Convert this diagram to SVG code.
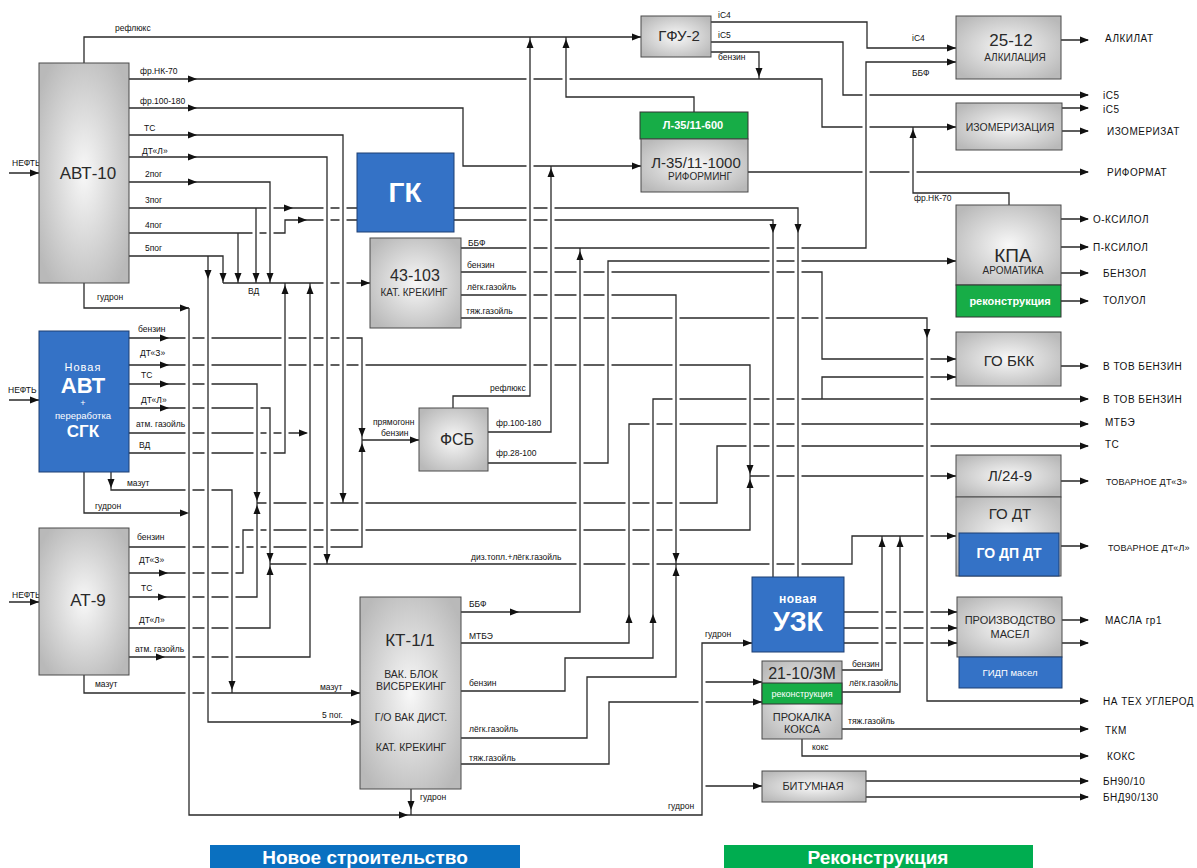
<svg xmlns="http://www.w3.org/2000/svg" xmlns:xlink="http://www.w3.org/1999/xlink" width="1197" height="868" viewBox="0 0 1197 868">
  <style>
    .c { fill: none; stroke: #2a2a2a; stroke-width: 1.3; }
    .box { fill: url(#gray); stroke: #4a4a4a; stroke-width: 1; }
    .blue { fill: #3472c6; stroke: #1d3f73; stroke-width: 1; }
    .green { fill: #17ad47; stroke: #333; stroke-width: 1; }
    text { font-family: "Liberation Sans", Arial, sans-serif; fill: #111; }
    .l { font-size: 8.5px; }
    .o { font-size: 10px; letter-spacing: 0.5px; }
    .o2 { font-size: 9px; letter-spacing: 0.2px; }
    .n { text-anchor: middle; fill: #2a2a2a; }
    .w { fill: #fff; font-weight: bold; text-anchor: middle; }
    .wn { fill: #fff; text-anchor: middle; }
  </style>
  <defs>
    <radialGradient id="gray" cx="50%" cy="50%" r="62%">
      <stop offset="0" stop-color="#f8f8f8"/>
      <stop offset="1" stop-color="#b9b9b9"/>
    </radialGradient>
    <path id="ar" d="M0,0 L-9,-3.5 L-9,3.5 Z" fill="#111"/>
    <path id="au" d="M0,0 L-3.5,9 L3.5,9 Z" fill="#111"/>
    <path id="ad" d="M0,0 L-3.5,-9 L3.5,-9 Z" fill="#111"/>
    <!-- vertical runs that cross horizontal lines (used for line hops) -->
    <g id="vsegs">
      <path d="M343,139V499M327,161V560M270,186V279M256,212V279M238,237V279M223,260V279M208,260V718M285,287V449M310,287V653M189,312V811M362,342V436M362,444V543M750,369V472M750,480V526M243,534V569M257,388V499M257,507V593M270,412V560M270,568V624M232,494V689M798,212V573M773,224V573M866,66V244M822,83V123M822,276V355M676,299V560M676,568V673M927,322V697M530,41V392M551,170V428M608,265V459M843,46V91M867,26V44M913,131V189M580,252V608M629,428V639M653,403V654M565,662V687M587,681V734M609,706V760M717,450V499M852,540V560M882,540V666M900,540V688M702,647V811M822,381V395M759,56V75M463,112V162M566,41V93"/>
    </g>
  </defs>

  <rect width="1197" height="868" fill="#fff"/>

  <!-- flow lines -->
  <g id="connectors">
    <path class="c" d="M9,173H39M9,400H39M9,602H39"/>
    <path class="c" d="M84,63V37H641"/>
    <path class="c" d="M129,79H822V127H956"/>
    <path class="c" d="M711,52H759V79"/>
    <path class="c" d="M129,108H463V166H641"/>
    <path class="c" d="M129,135H343V503"/>
    <path class="c" d="M129,157H327V564"/>
    <path class="c" d="M129,182H270V283"/>
    <path class="c" d="M129,208H357M256,208V283"/>
    <path class="c" d="M129,233H285V220H357M238,233V283"/>
    <path class="c" d="M129,256H223V283"/>
    <path class="c" d="M208,256V722H360"/>
    <path class="c" d="M223,283H370"/>
    <path class="c" d="M84,283V308H189"/>
    <path class="c" d="M189,308V815H702V643H752M702,682H762M702,786H762"/>
    <path class="c" d="M411,789V815"/>
    <path class="c" d="M129,338H362V547H129M362,440H419"/>
    <path class="c" d="M129,365H750V530H243V573H129M750,476H956"/>
    <path class="c" d="M129,384H257V597H129M257,503H717V446H1088"/>
    <path class="c" d="M129,408H270V628H129M270,564H852V536H956"/>
    <path class="c" d="M129,433H310"/>
    <path class="c" d="M129,453H285V283"/>
    <path class="c" d="M129,657H310V283"/>
    <path class="c" d="M111,472V490H232V693"/>
    <path class="c" d="M84,472V513H189"/>
    <path class="c" d="M84,675V693H360"/>
    <path class="c" d="M454,208H798V577M454,220H773V577"/>
    <path class="c" d="M461,248H866V62H956"/>
    <path class="c" d="M461,272H822V359H956"/>
    <path class="c" d="M461,738H587V677H676V295H461"/>
    <path class="c" d="M461,318H927V701H1088"/>
    <path class="c" d="M453,408V396H530V37"/>
    <path class="c" d="M488,432H551V166"/>
    <path class="c" d="M488,463H608V261H956"/>
    <path class="c" d="M711,22H867V48H956"/>
    <path class="c" d="M711,42H843V95H1088"/>
    <path class="c" d="M694,112V97H566V37"/>
    <path class="c" d="M748,172H1088"/>
    <path class="c" d="M1061,40H1088M1062,108H1088M1062,131H1088"/>
    <path class="c" d="M1009,205V193H913V127"/>
    <path class="c" d="M1061,219H1088M1061,247H1088M1061,273H1088M1061,301H1088M1061,366H1088"/>
    <path class="c" d="M461,612H580V248"/>
    <path class="c" d="M461,643H629V424H1088"/>
    <path class="c" d="M461,691H565V658H653V399H1088M822,399V377H956"/>
    <path class="c" d="M461,764H609V702H762"/>
    <path class="c" d="M842,670H882V536M842,692H900V536"/>
    <path class="c" d="M842,729H1088M802,739V756H1088"/>
    <path class="c" d="M866,781H1088M866,797H1088"/>
    <path class="c" d="M844,612H957M844,628H957M844,643H957"/>
    <path class="c" d="M1062,620H1088M1062,643H1088M1061,481H1088M1059,546H1088"/>

    <!-- line hops: white gap under each crossing vertical, then the vertical again -->
    <use href="#vsegs" fill="none" stroke="#fff" stroke-width="7"/>
    <use href="#vsegs" fill="none" stroke="#2a2a2a" stroke-width="1.3"/>

    <!-- arrowheads -->
    <g id="arrowheads">
      <use href="#ar" x="39" y="173"/><use href="#ar" x="39" y="400"/><use href="#ar" x="39" y="602"/>
      <use href="#ar" x="641" y="37"/><use href="#ar" x="641" y="166"/>
      <use href="#ar" x="197" y="79"/><use href="#ar" x="197" y="108"/><use href="#ar" x="197" y="135"/>
      <use href="#ar" x="197" y="157"/><use href="#ar" x="197" y="182"/>
      <use href="#ar" x="293" y="208"/><use href="#ar" x="307" y="220"/>
      <use href="#ad" x="208" y="279"/><use href="#ad" x="223" y="282"/><use href="#ad" x="238" y="282"/>
      <use href="#ad" x="256" y="282"/><use href="#ad" x="270" y="282"/>
      <use href="#au" x="285" y="285"/><use href="#au" x="310" y="285"/>
      <use href="#ar" x="370" y="283"/>
      <use href="#ar" x="189" y="308"/><use href="#ar" x="189" y="513"/>
      <use href="#ar" x="169" y="338"/><use href="#ar" x="169" y="365"/><use href="#ar" x="169" y="384"/>
      <use href="#ar" x="169" y="408"/><use href="#ar" x="308" y="433"/>
      <use href="#ad" x="111" y="488"/><use href="#ad" x="232" y="690"/>
      <use href="#ar" x="168" y="573"/><use href="#ar" x="167" y="597"/><use href="#ar" x="165" y="657"/>
      <use href="#ar" x="360" y="693"/><use href="#ar" x="360" y="722"/>
      <use href="#ad" x="257" y="501"/><use href="#au" x="257" y="505"/>
      <use href="#ad" x="270" y="562"/><use href="#au" x="270" y="566"/>
      <use href="#ad" x="343" y="502"/><use href="#ad" x="327" y="563"/>
      <use href="#ad" x="362" y="437"/><use href="#au" x="362" y="443"/>
      <use href="#ar" x="419" y="440"/>
      <use href="#au" x="530" y="39"/><use href="#au" x="566" y="39"/><use href="#au" x="551" y="168"/>
      <use href="#ad" x="759" y="77"/>
      <use href="#ad" x="773" y="233"/><use href="#ad" x="798" y="233"/>
      <use href="#au" x="580" y="251"/>
      <use href="#ad" x="676" y="562"/><use href="#au" x="676" y="567"/>
      <use href="#ad" x="750" y="474"/><use href="#au" x="750" y="479"/>
      <use href="#au" x="629" y="614"/><use href="#au" x="653" y="614"/>
      <use href="#au" x="913" y="129"/><use href="#ad" x="927" y="338"/>
      <use href="#au" x="882" y="538"/><use href="#au" x="900" y="538"/>
      <use href="#ar" x="519" y="612"/>
      <use href="#ad" x="411" y="810"/><use href="#ar" x="408" y="815"/>
      <use href="#ar" x="752" y="643"/><use href="#ar" x="762" y="682"/><use href="#ar" x="762" y="702"/><use href="#ar" x="762" y="786"/>
      <use href="#ar" x="956" y="48"/><use href="#ar" x="956" y="62"/><use href="#ar" x="956" y="127"/>
      <use href="#ar" x="956" y="261"/><use href="#ar" x="956" y="359"/><use href="#ar" x="956" y="377"/>
      <use href="#ar" x="956" y="476"/><use href="#ar" x="956" y="536"/>
      <use href="#ar" x="957" y="612"/><use href="#ar" x="957" y="628"/><use href="#ar" x="957" y="643"/>
      <use href="#ar" x="1089" y="40"/><use href="#ar" x="1089" y="95"/><use href="#ar" x="1089" y="108"/>
      <use href="#ar" x="1089" y="131"/><use href="#ar" x="1089" y="172"/><use href="#ar" x="1089" y="219"/>
      <use href="#ar" x="1089" y="247"/><use href="#ar" x="1089" y="273"/><use href="#ar" x="1089" y="301"/>
      <use href="#ar" x="1089" y="366"/><use href="#ar" x="1089" y="399"/><use href="#ar" x="1089" y="424"/>
      <use href="#ar" x="1089" y="446"/><use href="#ar" x="1089" y="481"/><use href="#ar" x="1089" y="546"/>
      <use href="#ar" x="1089" y="620"/><use href="#ar" x="1089" y="643"/><use href="#ar" x="1089" y="701"/>
      <use href="#ar" x="1089" y="729"/><use href="#ar" x="1089" y="756"/><use href="#ar" x="1089" y="781"/>
      <use href="#ar" x="1089" y="797"/>
    </g>

    <!-- flow labels -->
    <g id="flow-labels" class="l">
      <text x="12" y="166">НЕФТЬ</text>
      <text x="8" y="393">НЕФТЬ</text>
      <text x="12" y="598">НЕФТЬ</text>
      <text x="115" y="31">рефлюкс</text>
      <text x="140" y="74">фр.НК-70</text>
      <text x="140" y="104">фр.100-180</text>
      <text x="144" y="131">ТС</text>
      <text x="142" y="154">ДТ«Л»</text>
      <text x="145" y="177">2пог</text>
      <text x="145" y="203">3пог</text>
      <text x="145" y="228">4пог</text>
      <text x="145" y="251">5пог</text>
      <text x="248" y="294">ВД</text>
      <text x="97" y="300">гудрон</text>
      <text x="138" y="332">бензин</text>
      <text x="140" y="356">ДТ«З»</text>
      <text x="141" y="378">ТС</text>
      <text x="141" y="403">ДТ«Л»</text>
      <text x="136" y="427">атм. газойль</text>
      <text x="139" y="448">ВД</text>
      <text x="127" y="486">мазут</text>
      <text x="95" y="509">гудрон</text>
      <text x="137" y="540">бензин</text>
      <text x="139" y="563">ДТ«З»</text>
      <text x="141" y="591">ТС</text>
      <text x="139" y="623">ДТ«Л»</text>
      <text x="135" y="652">атм. газойль</text>
      <text x="95" y="687">мазут</text>
      <text x="320" y="690">мазут</text>
      <text x="322" y="718">5 пог.</text>
      <text x="468" y="246">ББФ</text>
      <text x="467" y="268">бензин</text>
      <text x="467" y="290">лёгк.газойль</text>
      <text x="466" y="314">тяж.газойль</text>
      <text x="490" y="391">рефлюкс</text>
      <text x="373" y="425">прямогонн</text>
      <text x="381" y="436">бензин</text>
      <text x="496" y="426">фр.100-180</text>
      <text x="496" y="456">фр.28-100</text>
      <text x="718" y="18">iC4</text>
      <text x="718" y="38">iC5</text>
      <text x="718" y="60">бензин</text>
      <text x="912" y="41">iC4</text>
      <text x="912" y="76">ББФ</text>
      <text x="914" y="201">фр.НК-70</text>
      <text x="471" y="560">диз.топл.+лёгк.газойль</text>
      <text x="469" y="607">ББФ</text>
      <text x="469" y="639">МТБЭ</text>
      <text x="469" y="686">бензин</text>
      <text x="469" y="732">лёгк.газойль</text>
      <text x="469" y="761">тяж.газойль</text>
      <text x="420" y="800">гудрон</text>
      <text x="668" y="809">гудрон</text>
      <text x="705" y="637">гудрон</text>
      <text x="852" y="667">бензин</text>
      <text x="849" y="686">лёгк.газойль</text>
      <text x="848" y="724">тяж.газойль</text>
      <text x="812" y="750">кокс</text>
    </g>

    <!-- product names -->
    <g id="products" class="o">
      <text x="1105" y="42">АЛКИЛАТ</text>
      <text x="1103" y="99">iC5</text>
      <text x="1103" y="113">iC5</text>
      <text x="1107" y="135">ИЗОМЕРИЗАТ</text>
      <text x="1107" y="176">РИФОРМАТ</text>
      <text x="1093" y="223">О-КСИЛОЛ</text>
      <text x="1093" y="251">П-КСИЛОЛ</text>
      <text x="1103" y="277">БЕНЗОЛ</text>
      <text x="1103" y="304">ТОЛУОЛ</text>
      <text x="1103" y="370">В ТОВ БЕНЗИН</text>
      <text x="1103" y="403">В ТОВ БЕНЗИН</text>
      <text x="1105" y="426">МТБЭ</text>
      <text x="1105" y="448">ТС</text>
      <text class="o2" x="1106" y="485">ТОВАРНОЕ ДТ«З»</text>
      <text class="o2" x="1108" y="551">ТОВАРНОЕ ДТ«Л»</text>
      <text x="1105" y="624">МАСЛА гр1</text>
      <text x="1103" y="705">НА ТЕХ УГЛЕРОД</text>
      <text x="1105" y="734">ТКМ</text>
      <text x="1107" y="760">КОКС</text>
      <text x="1103" y="785">БН90/10</text>
      <text x="1103" y="801">БНД90/130</text>
    </g>
  </g>

  <!-- units -->
  <g id="avt10">
    <rect class="box" x="39" y="63" width="90" height="220"/>
    <text class="n" x="88" y="179" font-size="17">АВТ-10</text>
  </g>
  <g id="new-avt">
    <rect class="blue" x="39" y="331" width="90" height="141"/>
    <text class="wn" x="83" y="371" font-size="11" letter-spacing="1">Новая</text>
    <text class="w" x="83" y="393" font-size="22">АВТ</text>
    <text class="wn" x="83" y="406" font-size="9">+</text>
    <text class="wn" x="83" y="419" font-size="9.5">переработка</text>
    <text class="w" x="83" y="437" font-size="17">СГК</text>
  </g>
  <g id="at9">
    <rect class="box" x="39" y="528" width="90" height="147"/>
    <text class="n" x="88" y="606" font-size="17">АТ-9</text>
  </g>
  <g id="gk">
    <rect class="blue" x="357" y="153" width="97" height="79"/>
    <text class="w" x="405" y="202" font-size="28">ГК</text>
  </g>
  <g id="u43-103">
    <rect class="box" x="370" y="238" width="91" height="90"/>
    <text class="n" x="415" y="281" font-size="16">43-103</text>
    <text class="n" x="414" y="296" font-size="10">КАТ. КРЕКИНГ</text>
  </g>
  <g id="fsb">
    <rect class="box" x="419" y="408" width="69" height="63"/>
    <text class="n" x="457" y="445" font-size="16">ФСБ</text>
  </g>
  <g id="kt11">
    <rect class="box" x="360" y="597" width="101" height="192"/>
    <text class="n" x="410" y="646" font-size="17">КТ-1/1</text>
    <text class="n" x="411" y="678" font-size="10.5">ВАК. БЛОК</text>
    <text class="n" x="411" y="690" font-size="10.5">ВИСБРЕКИНГ</text>
    <text class="n" x="411" y="721" font-size="10.5">Г/О ВАК ДИСТ.</text>
    <text class="n" x="411" y="751" font-size="10.5">КАТ. КРЕКИНГ</text>
  </g>
  <g id="gfu2">
    <rect class="box" x="641" y="16" width="70" height="41"/>
    <text class="n" x="679" y="41" font-size="15">ГФУ-2</text>
  </g>
  <g id="l35">
    <rect class="green" x="640" y="112" width="108" height="27"/>
    <text class="w" x="693" y="129" font-size="11">Л-35/11-600</text>
    <rect class="box" x="641" y="139" width="107" height="53"/>
    <text class="n" x="696" y="168" font-size="15">Л-35/11-1000</text>
    <text class="n" x="700" y="180" font-size="10">РИФОРМИНГ</text>
  </g>
  <g id="alkylation">
    <rect class="box" x="956" y="16" width="105" height="63"/>
    <text class="n" x="1011" y="46" font-size="17">25-12</text>
    <text class="n" x="1015" y="61" font-size="10">АЛКИЛАЦИЯ</text>
  </g>
  <g id="isomerization">
    <rect class="box" x="956" y="103" width="106" height="47"/>
    <text class="n" x="1010" y="131" font-size="10.5">ИЗОМЕРИЗАЦИЯ</text>
  </g>
  <g id="kpa">
    <rect class="box" x="956" y="205" width="105" height="80"/>
    <text class="n" x="1013" y="262" font-size="19">КПА</text>
    <text class="n" x="1013" y="274" font-size="10">АРОМАТИКА</text>
    <rect class="green" x="956" y="285" width="105" height="32"/>
    <text class="w" x="1010" y="305" font-size="11">реконструкция</text>
  </g>
  <g id="go-bkk">
    <rect class="box" x="956" y="332" width="105" height="54"/>
    <text class="n" x="1009" y="366" font-size="15">ГО БКК</text>
  </g>
  <g id="go-dt">
    <rect class="box" x="956" y="455" width="105" height="42"/>
    <text class="n" x="1010" y="481" font-size="15">Л/24-9</text>
    <rect class="box" x="956" y="497" width="105" height="79"/>
    <text class="n" x="1010" y="519" font-size="15">ГО ДТ</text>
    <rect class="blue" x="959" y="533" width="100" height="43"/>
    <text class="w" x="1009" y="558" font-size="14">ГО ДП ДТ</text>
  </g>
  <g id="uzk">
    <rect class="blue" x="752" y="577" width="92" height="75"/>
    <text class="w" x="798" y="603" font-size="12" letter-spacing="0.5">новая</text>
    <text class="w" x="798" y="631" font-size="27">УЗК</text>
  </g>
  <g id="oils">
    <rect class="box" x="957" y="597" width="105" height="60"/>
    <text class="n" x="1010" y="624" font-size="11">ПРОИЗВОДСТВО</text>
    <text class="n" x="1010" y="638" font-size="11">МАСЕЛ</text>
    <rect class="blue" x="959" y="657" width="103" height="31"/>
    <text class="wn" x="1010" y="676" font-size="9.5">ГИДП масел</text>
  </g>
  <g id="u21-10">
    <rect class="box" x="762" y="661" width="80" height="78"/>
    <text class="n" x="802" y="679" font-size="16">21-10/3М</text>
    <rect class="green" x="762" y="683" width="80" height="21"/>
    <text class="wn" x="802" y="697" font-size="9">реконструкция</text>
    <text class="n" x="802" y="721" font-size="11">ПРОКАЛКА</text>
    <text class="n" x="802" y="733" font-size="11">КОКСА</text>
  </g>
  <g id="bitumen">
    <rect class="box" x="762" y="771" width="104" height="31"/>
    <text class="n" x="813" y="790" font-size="11">БИТУМНАЯ</text>
  </g>

  <!-- legend -->
  <g id="legend">
    <rect x="210" y="845" width="310" height="23" fill="#0a70c0"/>
    <text class="w" x="365" y="864" font-size="19">Новое строительство</text>
    <rect x="724" y="845" width="309" height="23" fill="#00ad50"/>
    <text class="w" x="878" y="864" font-size="19">Реконструкция</text>
  </g>
</svg>
